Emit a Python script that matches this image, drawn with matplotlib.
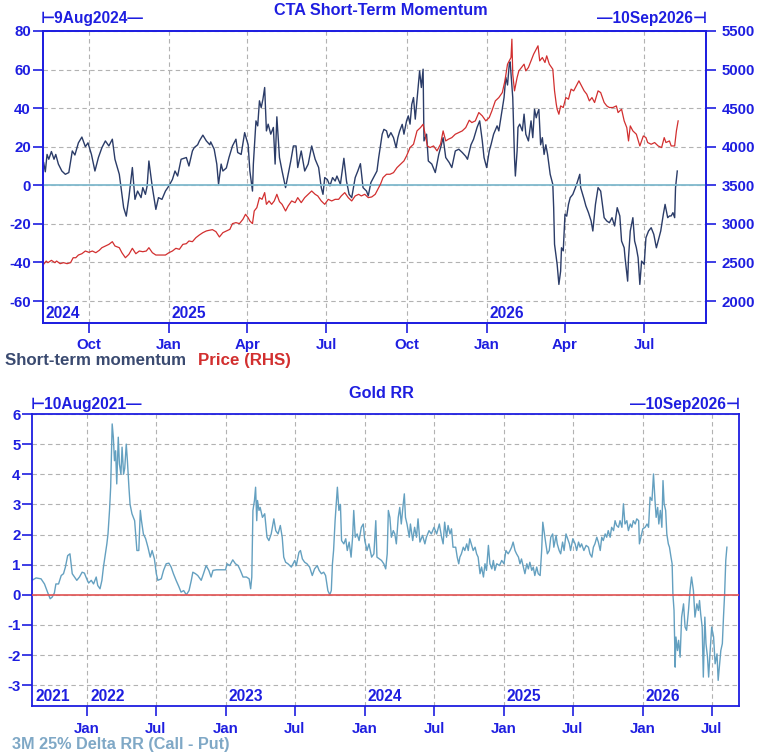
import numpy as np
import pandas as pd
import matplotlib
matplotlib.use('Agg')
import matplotlib.pyplot as plt
import matplotlib.dates as mdates
import matplotlib.transforms as mtransforms

plt.rcParams['font.family'] = ['Liberation Sans', 'DejaVu Sans']
plt.rcParams['font.weight'] = 'bold'
plt.rcParams['axes.unicode_minus'] = False

# ---------------- data: CTA short-term momentum (days after 2024-10-01) -------------
mom_base = '2024-10-01'
mom_days = [-53, -52, -50, -48, -46, -43, -40, -38, -35, -31, -27, -23, -19, -16, -12, -8, -4, -1,
            3, 7, 11, 15, 19, 23, 27, 30, 35, 37, 40, 43, 46, 50, 53, 56, 60, 62, 65, 67, 69, 73,
            77, 80, 84, 88, 92, 96, 99, 102, 106, 112, 115, 119, 121, 125, 127, 131, 135, 139, 140,
            144, 147, 149, 152, 154, 158, 161, 165, 169, 171, 175, 179, 183, 185, 188, 189, 192, 194,
            196, 198, 200, 202, 204, 206, 209, 212, 214, 216, 219, 222, 226, 229, 232, 235, 238, 240,
            244, 248, 252, 256, 260, 264, 267, 269, 271, 274, 277, 280, 283, 285, 289, 293, 296, 299,
            302, 306, 309, 312, 315, 319, 321, 324, 327, 331, 333,
            337, 339, 342, 344, 347, 350, 353, 355, 357, 360, 362, 365, 367, 369, 371, 373, 375, 378,
            380, 382, 384, 385, 388, 390, 394, 398, 402, 405, 407, 410, 414, 417, 421, 425, 429, 433,
            435, 439, 442, 446, 449, 452, 454, 457, 460, 462, 465, 469, 471, 474, 477, 479, 481, 483,
            484, 487, 489, 490, 492, 493, 495, 498, 500, 502, 505, 508, 510, 512, 514, 515, 517, 519,
            521, 523, 525, 527, 530, 533, 534, 535, 538, 540, 542, 543, 545, 547, 549, 551, 553, 556,
            559, 561, 564, 565, 569, 571, 574, 577, 579, 582, 585, 588, 590, 592, 595, 598, 601, 604,
            607, 610, 612, 615, 616, 619, 620, 622, 625, 627, 629, 631, 633, 635, 638, 640, 643, 646,
            649, 652, 655, 657, 660, 662, 665, 667, 669, 671, 673, 674, 676]
mom_vals = [10, 12, 7, 16, 13.5, 17.5, 13.5, 16, 11, 7.4, 5.7, 6.6, 17.8, 15.7, 22, 25, 20, 22,
            16, 7.4, 14.4, 19.5, 23, 20.4, 23.9, 13.5, 5.7, -1.2, -11.6, -16, -6.4, 9.2, -7.3, -3, -6.4,
            -1.2, -4.7, -0.3, 12.6, -1.2, -12.5, -6.4, -7.3, -3, -0.3, 3, 7.4, 4.8, 13.5, 14.4, 10,
            17.8, 19.5, 21, 23, 26, 23, 21, 22.5, 18.7, 11, 0.5, 11, 7.4, 9, 14.4, 20.4, 23.9, 17, 16,
            27.3, 21, 7.4, -3, 11, 33.4, 30.8, 43.8, 40.3, 44.6, 50.7, 28.2, 31.7, 26.5, 30, 11, 35.5,
            14.4, 7.4, -1.2, 5.7, 12.6, 20.4, 20.4, 9.2, 17.8, 7.4, 11, 20.4, 13.5, 9.2, -1.2, -4.7, 4,
            3, -0.3, 4, 2.2, 4.8, 0.5, 14, 2.2, -4.7, -6.4, 4, 7.4, 11.2, -1.2, -3, -5.5, 1.4, 4, 7.4,
            14.4,
            26.5, 29, 28.2, 24.7, 27.3, 24.7, 19.5, 24.7, 28, 31.6, 26.5, 33.4, 36, 31.7, 42, 45.5,
            34.3, 49, 59.3, 50.7, 60.2, 23, 26.5, 12.6, 11, 6.6, 16, 21, 24.7, 14.4, 11.8, 9.2, 17.8,
            18.7, 17, 15, 13.5, 21, 23.9, 30, 33.4, 23, 14.4, 9.2, 17.8, 21, 26.5, 30.8, 28.2, 36.9,
            45.5, 56, 52, 62.8, 64, 45.5, 14.4, 4.8, 17.8, 30, 31.7, 28.2, 36.9, 26.5, 23, 33.4, 24.7,
            39.4, 35, 36.9, 39.4, 21, 24.7, 16, 21, 16, 5.7, 0.5, -11.6, -30.6, -41, -51.4, -44.5,
            -32.4, -34, -15, -16, -9.9, -6.4, -4.7, -1.2, 1.4, 5.7, -1.2, -7.3, -10.7, -14.2, -18.5,
            -23.7, -9.9, -1.2, -3, -9.9, -16.8, -18.5, -19.4, -16.8, -21.1, -11.6, -15.9, -28.9, -32.4,
            -37.5, -49.7, -37.5, -23.7, -16.8, -28.9, -32.4, -37.5, -51.4, -39.3, -41, -27.2, -23.7,
            -22, -25.4, -32.4, -27.2, -23.7, -15, -9.9, -16.8, -15.9, -15.9, -14.2, -16.8, -1.2, 7.4]

# ---------------- data: gold price (RHS) ----------------------------------------------
price_days = [-53, -52, -49, -47, -43, -39, -37, -33, -29, -25, -21, -18, -15, -12, -8, -4, 0, 4, 8,
              12, 15, 19, 23, 27, 30, 35, 38, 42, 46, 50, 54, 58, 62, 66, 69, 73, 77, 83, 88, 92, 96,
              100, 104, 108, 112, 115, 119, 123, 127, 131, 135, 138, 142, 146, 150, 154, 158, 162,
              165, 169, 173, 177, 180, 183, 185, 188, 190, 193, 196, 199, 202, 204, 207, 210, 213,
              216, 219, 222, 226, 229, 233, 237, 240, 244, 248, 252, 256, 260, 263, 267, 271, 275,
              279, 283, 287, 290, 294, 298, 302, 306, 310, 313, 317, 321, 325, 329, 333,
              335, 338, 342, 346, 350, 354, 358, 362, 365, 369, 373, 377, 381, 384, 387, 389, 392,
              396, 400, 404, 407, 410, 413, 417, 421, 425, 429, 433, 437, 440, 444, 448, 452, 456,
              460, 463, 467, 471, 475, 478, 481, 485, 486, 487, 489, 492, 494, 497, 500, 502, 505,
              508, 511, 513, 516, 518, 521, 524, 526, 529, 533, 535, 537, 538, 540, 542, 545, 548,
              551, 554, 557, 560, 563, 566, 569, 572, 575, 578, 581, 585, 588, 592, 595, 598, 602,
              606, 608, 612, 615, 618, 620, 622, 625, 629, 633, 637, 640, 642, 646, 650, 654, 658,
              661, 663, 667, 669, 673, 675, 677]
price_vals = [2432, 2475, 2518, 2497, 2527, 2497, 2518, 2484, 2497, 2484, 2497, 2561, 2561, 2596,
              2613, 2648, 2631, 2648, 2626, 2657, 2691, 2713, 2734, 2769, 2713, 2691, 2626, 2561,
              2605, 2683, 2613, 2648, 2639, 2648, 2691, 2626, 2596, 2596, 2596, 2626, 2648, 2683,
              2670, 2734, 2743, 2778, 2769, 2821, 2856, 2886, 2908, 2916, 2925, 2899, 2830, 2886,
              2908, 2929, 3003, 3016, 3003, 3059, 3124, 3080, 3037, 3003, 3167, 3210, 3340, 3318,
              3405, 3253, 3297, 3253, 3297, 3383, 3288, 3253, 3167, 3232, 3297, 3275, 3340, 3275,
              3340, 3383, 3426, 3383, 3362, 3297, 3253, 3318, 3297, 3318, 3318, 3362, 3405, 3340,
              3297, 3362, 3383, 3362, 3383, 3340, 3349, 3383, 3470,
              3513, 3600, 3643, 3643, 3664, 3729, 3772, 3816, 3881, 3989, 4032, 4205, 4248, 4291,
              4118, 4010, 3989, 4010, 3946, 4032, 4205, 4075, 4097, 4118, 4162, 4183, 4205, 4248,
              4343, 4313, 4335, 4443, 4400, 4335, 4378, 4464, 4594, 4637, 4702, 4854, 5070, 5156,
              5394, 4940, 4724, 4897, 4983, 5027, 5070, 4983, 5027, 5113, 5200, 5243, 5308, 5113,
              5156, 5092, 5178, 5070, 5005, 4724, 4551, 4486, 4421, 4529, 4508, 4637, 4616, 4746,
              4724, 4789, 4854, 4789, 4724, 4681, 4594, 4637, 4573, 4724, 4702, 4573, 4529, 4508,
              4508, 4529, 4443, 4486, 4335, 4248, 4075, 4270, 4205, 4162, 4010, 4140, 4118, 4054,
              4032, 4054, 4010, 3989, 4118, 4054, 4075, 4010, 4010, 4205, 4335]

# ---------------- data: Gold 3M 25-delta risk reversal (days after 2022-01-01) --------
rr_base = '2022-01-01'
rr_days = [-145, -134, -121, -112, -104, -97, -92, -86, -82, -75, -68, -62, -57, -51, -45, -39, -33,
           -27, -20, -13, -7, -1, 4, 11, 17, 24, 28, 34, 39, 43, 48, 52, 55, 59, 62, 66, 69, 72, 75,
           78, 82, 85, 89, 92, 96, 99, 103, 106, 110, 113, 118, 125, 131, 136, 140, 143, 148, 154,
           160, 166, 171, 177, 182, 186, 195, 201, 208, 215, 221, 227, 234, 241, 247, 254, 261, 268,
           274, 278, 285, 291, 300, 306, 313, 320, 326, 331, 340, 348, 357, 364, 368, 375, 383, 390,
           397, 403, 410, 419, 426, 430, 433, 436, 440, 443, 446, 448, 452, 455, 461, 467, 473, 478,
           484, 491, 496, 502, 508, 513, 517, 522, 528, 537, 546, 550, 557, 561, 566, 572, 578, 585,
           592, 598, 605, 610, 616, 622, 627, 633, 638, 642, 645, 648, 652, 655, 658, 662, 666, 669,
           675, 680, 684, 689, 694, 698, 701, 705, 710, 715, 721, 726, 730, 736, 741, 748, 754, 759,
           762,
           774, 780, 785, 789, 792, 796, 800, 805, 809, 813, 818, 822, 826, 831, 834, 837, 841, 847,
           850, 856, 861, 866, 870, 875, 882, 888, 892, 899, 905, 912, 919, 926, 932, 936, 940, 945,
           949, 954, 958, 962, 969, 973, 977, 980, 984, 989, 993, 998, 1002, 1006, 1011, 1015, 1020,
           1024, 1028, 1033, 1037, 1042, 1046, 1050, 1055, 1059, 1064, 1068, 1072, 1077, 1084, 1090,
           1096, 1101, 1107, 1112, 1116, 1120, 1125, 1129, 1134, 1138, 1142, 1147, 1151, 1156, 1160,
           1164, 1169, 1173, 1177, 1182, 1186, 1191, 1195, 1198, 1201, 1206, 1210, 1215, 1219, 1224,
           1227, 1233, 1236, 1241, 1245, 1250, 1254, 1259, 1262, 1268, 1271, 1277, 1283, 1287, 1292,
           1296, 1300, 1306, 1312, 1318, 1322, 1327, 1331, 1335, 1340, 1344, 1349, 1353, 1357, 1362,
           1366, 1370, 1375, 1379, 1384, 1388, 1392, 1397, 1401, 1406, 1410, 1414, 1419, 1423, 1428,
           1432, 1436, 1441, 1445, 1450, 1452, 1456, 1461, 1467, 1472, 1476, 1480, 1485, 1489, 1493,
           1496, 1500, 1503, 1507, 1511, 1514, 1517, 1521, 1524, 1528, 1531, 1535, 1538, 1540, 1543,
           1546, 1548, 1552, 1555, 1559, 1563, 1568, 1572, 1576, 1581, 1585, 1589, 1594, 1598, 1603,
           1607, 1610, 1613, 1617, 1620, 1624, 1627, 1631, 1634, 1638, 1642, 1647, 1651, 1656, 1659,
           1663, 1666, 1670, 1673, 1676, 1679, 1682]
rr_vals = [0.48, 0.56, 0.53, 0.36, 0.09, -0.13, -0.08, 0.06, 0.36, 0.36, 0.64, 0.70, 0.92, 1.30, 1.36,
           0.70, 0.59, 0.48, 0.59, 0.75, 0.72, 0.53, 0.39, 0.48, 0.36, 0.59, 0.31, 0.20, 0.48, 0.92,
           1.36, 1.69, 2.02, 2.80, 3.57, 5.67, 5.23, 4.45, 4.78, 3.68, 5.23, 4.34, 4.00, 4.90, 4.00,
           4.20, 5.00, 4.45, 3.57, 3.00, 2.69, 2.46, 1.47, 1.47, 2.80, 2.46, 2.02, 1.86, 1.58, 1.25,
           1.47, 1.19, 0.70, 0.48, 0.53, 0.81, 1.03, 1.05, 0.92, 0.70, 0.48, 0.28, 0.09, 0.14, 0.00,
           0.14, 0.48, 0.75, 0.70, 0.64, 0.48, 0.70, 0.97, 0.81, 0.59, 0.81, 0.83, 0.83, 0.83, 0.83,
           1.03, 0.97, 1.16, 1.03, 0.97, 0.81, 0.59, 0.59, 0.53, 0.20, 0.59, 2.80, 3.13, 3.57, 2.46,
           3.13, 2.80, 2.90, 2.57, 2.69, 1.91, 1.80, 2.02, 2.52, 2.13, 2.02, 2.30, 1.91, 1.25, 1.08,
           1.03, 0.92, 1.14, 0.97, 1.41, 1.47, 1.19, 1.08, 1.03, 0.92, 0.64, 0.86, 0.97, 0.81, 0.70,
           0.75, 0.64, 0.14, 0.00, 0.14, 1.03, 1.47, 2.46, 3.00, 3.57, 2.80, 3.00, 1.80, 1.69, 1.86,
           1.47, 1.75, 1.25, 1.91, 2.80, 1.91, 2.02, 1.80, 2.24, 2.35, 1.80, 1.47, 1.69, 1.25, 1.36,
           2.46, 1.25,
           1.14, 1.03, 0.86, 1.36, 2.80, 2.57, 1.91, 2.13, 2.02, 1.69, 2.57, 2.90, 2.35, 3.00, 3.35,
           2.57, 2.35, 1.91, 2.35, 1.80, 2.24, 1.91, 2.52, 1.75, 1.97, 1.69, 1.91, 2.13, 2.02, 2.24,
           2.02, 2.35, 1.91, 1.69, 2.41, 1.91, 2.30, 2.02, 2.19, 1.58, 1.58, 1.25, 1.03, 1.25, 1.36,
           1.58, 1.47, 1.69, 1.47, 1.86, 1.64, 1.47, 1.58, 1.36, 1.25, 0.70, 0.92, 0.59, 1.03, 0.81,
           1.64, 1.03, 0.86, 1.14, 0.81, 1.03, 0.97, 1.14, 1.03, 1.47, 1.36, 1.47, 1.58, 1.75, 1.47,
           1.36, 1.25, 1.03, 1.19, 0.92, 0.70, 1.03, 0.86, 1.08, 0.81, 0.92, 0.64, 0.92, 0.70, 0.64,
           1.47, 2.41, 2.13, 1.69, 1.36, 1.47, 1.91, 2.02, 1.58, 1.97, 1.69, 1.47, 1.36, 1.75, 1.47,
           2.02, 1.91, 1.69, 1.47, 1.86, 1.69, 1.47, 1.75, 1.58, 1.69, 1.47, 1.64, 1.58, 1.36, 1.25,
           1.58, 1.69, 1.91, 1.75, 1.47, 1.91, 1.80, 2.02, 1.91, 2.13, 1.91, 2.24, 2.13, 2.46, 2.30,
           2.24, 2.46, 2.24, 3.02, 2.35, 2.46, 2.13, 2.35, 2.24, 2.46, 2.35, 2.52, 2.46, 1.69, 1.91,
           2.19, 2.24, 2.35, 2.24, 3.24, 3.13, 4.01, 3.13, 2.57, 2.90, 2.35, 2.80, 2.24, 3.79, 3.02,
           2.80, 2.02, 1.69, 1.58, 1.25, 1.03, 0.03, -0.52, -2.40, -1.40, -1.85, -1.51, -2.07, -0.74,
           -0.30, -1.07, -1.18, -0.52, 0.14, 0.59, 0.14, -0.74, -0.30, -0.52, -0.19, -0.63, -1.07,
           -2.73, -0.74, -1.62, -2.07, -2.73, -1.85, -1.07, -1.40, -2.29, -1.96, -2.84, -2.29, -1.85,
           -1.62, -0.74, 0.03, 1.14, 1.58]

top_range = ['2024-08-09', '2026-09-10']
bot_range = ['2021-08-10', '2026-09-10']
top_years = ['2024', '2025', '2026']
bot_years = ['2021', '2022', '2023', '2024', '2025', '2026']

# ---------------- styling --------------------------------------------------------------
BLUE = '#1e1ee0'
NAVY = '#2b3c68'
RED = '#d22f2f'
ZERO_TOP = '#80b9cd'
RR_COL = '#64a0c0'
RR_TXT = '#7fa8c6'
ZERO_BOT = '#e05252'
GRID = '#b2b2b2'
TICK_FS = 10.8
LAB_FS = 11.2

W, H = 760, 756
fig = plt.figure(figsize=(W / 100, H / 100), dpi=100)


def fx(px):
    return px / W


def fy(py):
    return 1 - py / H


def style_axis(ax):
    for s in ax.spines.values():
        s.set_color(BLUE)
        s.set_linewidth(1.3)
    ax.tick_params(axis='both', which='major', direction='out', length=7, width=1.2,
                   color=BLUE, labelcolor=BLUE, labelsize=TICK_FS, pad=1.5)
    for lab in ax.get_xticklabels() + ax.get_yticklabels():
        lab.set_fontweight('bold')


# ---------------- top panel ------------------------------------------------------------
ax1 = fig.add_axes([fx(42.7), fy(322.7), fx(706) - fx(42.7), fy(31) - fy(322.7)])
mom_dates = pd.Timestamp(mom_base) + pd.to_timedelta(mom_days, unit='D')
price_dates = pd.Timestamp(mom_base) + pd.to_timedelta(price_days, unit='D')

ax1.set_axisbelow(True)
ax1.grid(True, color=GRID, linestyle=(0, (4, 3)), linewidth=0.8)
ax1.plot(mom_dates, mom_vals, color=NAVY, lw=1.0, zorder=2)
ax1.axhline(0, color=ZERO_TOP, lw=1.3, zorder=3)
ax1.set_ylim(-71.25, 80)
ax1.set_yticks(np.arange(-60, 81, 20))
ax1.set_xlim(pd.Timestamp(top_range[0]), pd.Timestamp(top_range[1]))
ax1.xaxis.set_major_locator(mdates.MonthLocator(bymonth=[1, 4, 7, 10]))
ax1.xaxis.set_major_formatter(mdates.DateFormatter('%b'))

ax1r = ax1.twinx()
ax1r.plot(price_dates, price_vals, color=RED, lw=0.9, zorder=2)
ax1r.set_ylim(1718.75, 5500)
ax1r.set_yticks(np.arange(2000, 5501, 500))
style_axis(ax1)
style_axis(ax1r)
ax1.tick_params(axis='x', pad=4)
ax1r.tick_params(axis='y', pad=4)

trans1 = mtransforms.blended_transform_factory(ax1.transData, ax1.transAxes)
off = mtransforms.ScaledTranslation(3 / 100, 2 / 100, fig.dpi_scale_trans)
for i, yr in enumerate(top_years):
    xpos = pd.Timestamp(top_range[0]) if i == 0 else pd.Timestamp(f'{yr}-01-01')
    ax1.text(xpos, 0, yr, transform=trans1 + off, ha='left', va='bottom',
             fontsize=LAB_FS, color=BLUE, fontweight='bold')

fig.text(fx(381), fy(10.5), 'CTA Short-Term Momentum', ha='center', va='center',
         fontsize=11.7, color=BLUE, fontweight='bold')
fig.text(fx(41), fy(19), '\u22a29Aug2024\u2014', ha='left', va='center',
         fontsize=LAB_FS, color=BLUE, fontweight='bold')
fig.text(fx(707), fy(19), '\u201410Sep2026\u22a3', ha='right', va='center',
         fontsize=LAB_FS, color=BLUE, fontweight='bold')
fig.text(fx(5), fy(361), 'Short-term momentum', ha='left', va='center',
         fontsize=12.2, color='#3a4a70', fontweight='bold')
fig.text(fx(198), fy(361), 'Price (RHS)', ha='left', va='center',
         fontsize=12.2, color=RED, fontweight='bold')

# ---------------- bottom panel ---------------------------------------------------------
ax2 = fig.add_axes([fx(32.3), fy(706.3), fx(738.7) - fx(32.3), fy(414) - fy(706.3)])
rr_dates = pd.Timestamp(rr_base) + pd.to_timedelta(rr_days, unit='D')
ax2.set_axisbelow(True)
ax2.grid(True, color=GRID, linestyle=(0, (4, 3)), linewidth=0.8)
ax2.plot(rr_dates, rr_vals, color=RR_COL, lw=1.0, zorder=2)
ax2.axhline(0, color=ZERO_BOT, lw=1.2, zorder=3)
ax2.set_ylim(-3.7, 6)
ax2.set_yticks(np.arange(-3, 7, 1))
ax2.set_xlim(pd.Timestamp(bot_range[0]), pd.Timestamp(bot_range[1]))
ax2.xaxis.set_major_locator(mdates.MonthLocator(bymonth=[1, 7]))
ax2.xaxis.set_major_formatter(mdates.DateFormatter('%b'))
style_axis(ax2)
ax2.tick_params(axis='x', pad=4)

trans2 = mtransforms.blended_transform_factory(ax2.transData, ax2.transAxes)
for i, yr in enumerate(bot_years):
    xpos = pd.Timestamp(bot_range[0]) if i == 0 else pd.Timestamp(f'{yr}-01-01')
    ax2.text(xpos, 0, yr, transform=trans2 + off, ha='left', va='bottom',
             fontsize=LAB_FS, color=BLUE, fontweight='bold')

fig.text(fx(381), fy(394), 'Gold RR', ha='center', va='center',
         fontsize=11.7, color=BLUE, fontweight='bold')
fig.text(fx(31), fy(404), '\u22a210Aug2021\u2014', ha='left', va='center',
         fontsize=LAB_FS, color=BLUE, fontweight='bold')
fig.text(fx(739.7), fy(404), '\u201410Sep2026\u22a3', ha='right', va='center',
         fontsize=LAB_FS, color=BLUE, fontweight='bold')
fig.text(fx(12), fy(745), '3M 25% Delta RR (Call - Put)', ha='left', va='center',
         fontsize=11.7, color=RR_TXT, fontweight='bold')

fig.savefig('out.png', dpi=100)
